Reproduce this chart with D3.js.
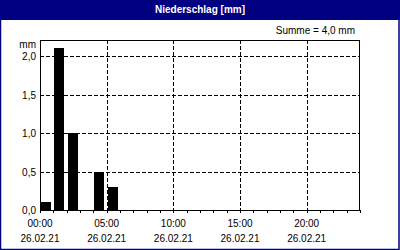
<!DOCTYPE html>
<html>
<head>
<meta charset="utf-8">
<script src="https://cdn.jsdelivr.net/npm/d3@7"></script>
<style>
  body { margin: 0; background: #fff; }
  text { font-family: Tahoma, "Liberation Sans", Arial, sans-serif; font-size: 10px; }
</style>
</head>
<body>
<div id="chart"></div>
<script>
const hours = [0, 1, 2, 4, 5];
const values = [0.1, 2.1, 1.0, 0.5, 0.3];
const yTicks = [0, 0.5, 1.0, 1.5, 2.0];
const xLabelHours = [0, 5, 10, 15, 20];
const dateLabel = "26.02.21";
const total = 4.0;

const W = 400, H = 250;
const margin = { top: 40, right: 40, bottom: 40, left: 40 };
const width = W - margin.left - margin.right;
const height = H - margin.top - margin.bottom;

const svg = d3.select("#chart").append("svg")
  .attr("width", W)
  .attr("height", H);

// frame + header
svg.append("rect")
  .attr("x", 0.5).attr("y", 0.5)
  .attr("width", W - 1.5).attr("height", H - 1)
  .attr("fill", "#fff")
  .attr("stroke", "#000080")
  .attr("stroke-width", 1.5);

svg.append("rect")
  .attr("x", 0).attr("y", 0)
  .attr("width", W).attr("height", 20)
  .attr("fill", "#000080");

svg.append("text")
  .attr("x", W / 2).attr("y", 13)
  .attr("text-anchor", "middle")
  .attr("fill", "#fff")
  .attr("font-weight", "bold")
  .text("Niederschlag [mm]");

svg.append("text")
  .attr("x", 355).attr("y", 34)
  .attr("text-anchor", "end")
  .text("Summe = " + total.toFixed(1).replace(".", ",") + " mm");

const g = svg.append("g")
  .attr("transform", `translate(${margin.left},${margin.top})`);

const x = d3.scaleLinear().domain([0, 24]).range([0, width]);
const y = d3.scaleLinear().domain([0, 2.208]).range([height, 0]);

// grid
g.selectAll(".hgrid")
  .data(yTicks.filter(d => d > 0))
  .enter().append("line")
  .attr("x1", 0).attr("x2", width)
  .attr("y1", d => Math.round(y(d)) + 0.5)
  .attr("y2", d => Math.round(y(d)) + 0.5)
  .attr("stroke", "#000")
  .attr("stroke-dasharray", "4,2");

g.selectAll(".vgrid")
  .data(xLabelHours.filter(d => d > 0))
  .enter().append("line")
  .attr("x1", d => Math.round(x(d)) + 0.5)
  .attr("x2", d => Math.round(x(d)) + 0.5)
  .attr("y1", 0).attr("y2", height)
  .attr("stroke", "#000")
  .attr("stroke-dasharray", "4,2");

// bars
const step = x(1) - x(0);
g.selectAll(".bar")
  .data(hours)
  .enter().append("rect")
  .attr("x", (d, i) => Math.round(x(d)) + (i === 0 ? 0 : 1))
  .attr("y", (d, i) => Math.round(y(values[i])))
  .attr("width", (d, i) => Math.round(step - 3) + (i === 0 ? 1 : 0))
  .attr("height", (d, i) => height - Math.round(y(values[i])))
  .attr("fill", "#000");

// plot border
g.append("rect")
  .attr("x", 0.5).attr("y", 0.5)
  .attr("width", width - 1).attr("height", height)
  .attr("fill", "none")
  .attr("stroke", "#000");

// hour ticks
g.selectAll(".tick")
  .data(d3.range(0, 25))
  .enter().append("line")
  .attr("x1", d => Math.round(x(d)) + 0.5)
  .attr("x2", d => Math.round(x(d)) + 0.5)
  .attr("y1", height)
  .attr("y2", height + 3)
  .attr("stroke", "#000");

// y labels
g.selectAll(".ylab")
  .data(yTicks)
  .enter().append("text")
  .attr("x", -4)
  .attr("y", d => y(d) + 4)
  .attr("text-anchor", "end")
  .text(d => d.toFixed(1).replace(".", ","));

g.append("text")
  .attr("x", -4).attr("y", 8)
  .attr("text-anchor", "end")
  .text("mm");

// x labels
const xl = g.selectAll(".xlab")
  .data(xLabelHours)
  .enter().append("g")
  .attr("transform", d => `translate(${x(d)},${height})`);

xl.append("text")
  .attr("y", 17)
  .attr("text-anchor", "middle")
  .text(d => String(d).padStart(2, "0") + ":00");

xl.append("text")
  .attr("y", 32)
  .attr("text-anchor", "middle")
  .text(dateLabel);
</script>
</body>
</html>
